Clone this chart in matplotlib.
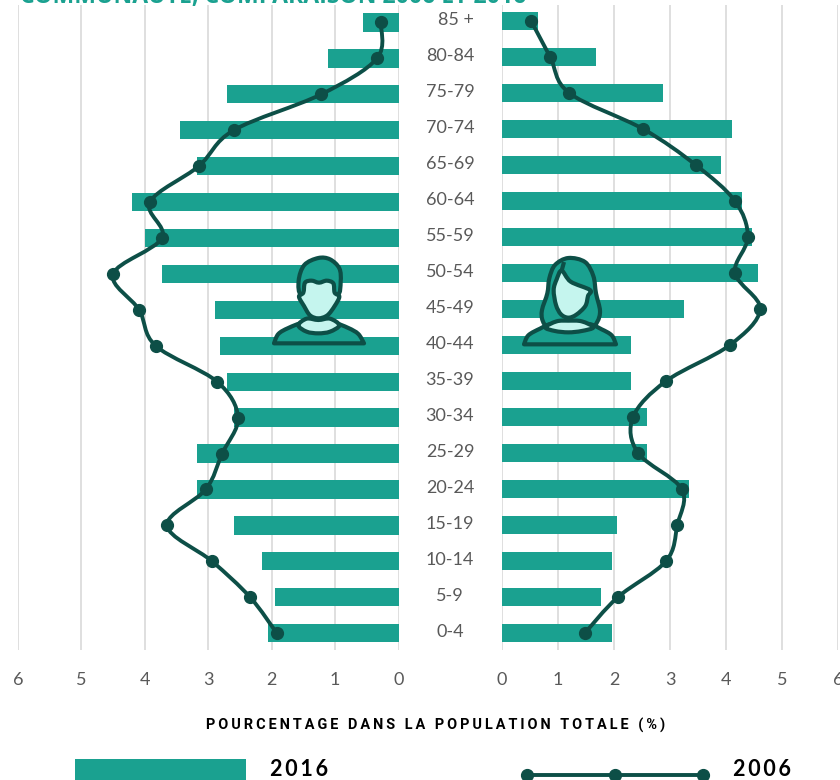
"""Pyramide des ages, comparaison 2006 et 2016."""

import matplotlib

matplotlib.use("Agg")
import matplotlib.pyplot as plt
import numpy as np
from matplotlib.patches import PathPatch, Rectangle
from matplotlib.path import Path
from matplotlib.transforms import blended_transform_factory

TEAL = "#1AA190"
DARK = "#0D4F47"
LIGHT = "#C5F5EE"
GREY = "#595959"
GRID = "#D9D9D9"

ages = ["85 +", "80-84", "75-79", "70-74", "65-69", "60-64", "55-59", "50-54", "45-49",
        "40-44", "35-39", "30-34", "25-29", "20-24", "15-19", "10-14", "5-9", "0-4"]
men_2016 = [0.56, 1.11, 2.70, 3.45, 3.17, 4.20, 4.00, 3.73, 2.89,
            2.81, 2.70, 2.60, 3.17, 3.17, 2.60, 2.15, 1.95, 2.05]
men_2006 = [0.28, 0.34, 1.22, 2.60, 3.15, 3.92, 3.73, 4.50, 4.09,
            3.83, 2.86, 2.53, 2.78, 3.04, 3.65, 2.94, 2.34, 1.92]
women_2016 = [0.64, 1.68, 2.88, 4.11, 3.91, 4.29, 4.46, 4.57, 3.25,
              2.30, 2.30, 2.59, 2.59, 3.34, 2.05, 1.96, 1.77, 1.96]
women_2006 = [0.52, 0.86, 1.20, 2.52, 3.46, 4.16, 4.39, 4.16, 4.61,
              4.07, 2.93, 2.34, 2.43, 3.21, 3.13, 2.93, 2.07, 1.48]
x_ticks = [0, 1, 2, 3, 4, 5, 6]

plt.rcParams["font.family"] = ["Lato", "DejaVu Sans"]


def smooth_path(points, mode="open"):
    """Catmull-Rom curve through the points, as bezier segments."""
    pts = np.asarray(points, dtype=float)
    if mode == "loop":
        padded = np.vstack([pts[-1], pts, pts[0], pts[1]])
    else:
        padded = np.vstack([pts[0], pts, pts[-1]])
    verts = [pts[0]]
    codes = [Path.MOVETO]
    for i in range(1, len(padded) - 2):
        verts.append(padded[i] + (padded[i + 1] - padded[i - 1]) / 6)
        verts.append(padded[i + 1] - (padded[i + 2] - padded[i]) / 6)
        verts.append(padded[i + 1])
        codes += [Path.CURVE4] * 3
    if mode != "open":
        verts.append(pts[0])
        codes.append(Path.CLOSEPOLY)
    return Path(np.array(verts), codes)


def draw_side(ax, bars, line, bar_height):
    y = np.arange(len(ages))
    ax.barh(y, bars, height=bar_height, color=TEAL, zorder=2)
    ax.add_patch(PathPatch(smooth_path(np.column_stack([line, y])), fill=False, edgecolor=DARK, lw=2.8, zorder=3))
    ax.plot(line, y, ls="none", marker="o", ms=8.5, color=DARK, zorder=4)
    ax.set_xticks(x_ticks)
    ax.grid(axis="x", color=GRID, lw=1.2, zorder=0)
    ax.set_axisbelow(True)
    ax.set_yticks([])
    ax.tick_params(axis="x", length=0, pad=16, labelsize=13, labelcolor=GREY)
    for spine in ax.spines.values():
        spine.set_visible(False)
    ax.patch.set_alpha(0)
    for label in ax.get_xticklabels():
        label.set_clip_on(False)


def icon_part(ax, points, origin, face, mode="loop"):
    px = np.asarray(points, dtype=float) / 3 + origin
    ax.add_patch(PathPatch(smooth_path(px, mode=mode), facecolor=face, edgecolor=DARK, lw=3.0, joinstyle="round", zorder=6))


def draw_man(ax):
    origin = np.array([250, 250])
    icon_part(ax, [(72, 280), (85, 252), (115, 234), (160, 218), (205, 222), (250, 218), (295, 234), (325, 252), (342, 280)], origin, TEAL, mode="corner")
    icon_part(ax, [(145, 226), (170, 206), (205, 210), (240, 206), (268, 226), (240, 245), (205, 250), (170, 245)], origin, LIGHT)
    icon_part(ax, [(154, 135), (146, 92), (163, 45), (205, 24), (240, 28), (268, 55), (272, 95), (262, 135), (205, 125)], origin, TEAL)
    icon_part(ax, [(165, 98), (185, 92), (207, 98), (230, 92), (250, 100), (254, 128), (268, 140), (254, 168), (232, 196), (205, 205), (180, 196), (162, 168), (147, 140), (160, 128)], origin, LIGHT)


def draw_woman(ax):
    origin = np.array([510, 250])
    icon_part(ax, [(118, 85), (135, 45), (175, 24), (225, 36), (250, 78), (258, 130), (270, 182), (262, 215), (240, 235), (175, 240), (118, 235), (98, 212), (96, 180), (112, 130)], origin, TEAL)
    icon_part(ax, [(42, 283), (55, 256), (90, 236), (125, 222), (175, 232), (235, 222), (275, 238), (305, 256), (318, 283)], origin, TEAL, mode="corner")
    icon_part(ax, [(106, 232), (140, 214), (175, 212), (215, 214), (250, 232), (215, 243), (175, 247), (135, 243)], origin, LIGHT)
    icon_part(ax, [(155, 62), (182, 95), (240, 120), (234, 138), (226, 168), (199, 194), (175, 203), (153, 193), (138, 165), (131, 120), (140, 88)], origin, LIGHT)
    icon_part(ax, [(162, 36), (155, 62)], origin, "none", mode="open")


def main():
    fig = plt.figure(figsize=(8.4, 7.8), dpi=100)
    fig.patch.set_facecolor("white")

    left = fig.add_axes([18 / 840, 130 / 780, 380.5 / 840, 645 / 780])
    right = fig.add_axes([502 / 840, 130 / 780, 336 / 840, 645 / 780])
    draw_side(left, men_2016, men_2006, 0.51)
    draw_side(right, women_2016, women_2006, 0.49)
    left.set_xlim(6, 0)
    right.set_xlim(0, 6)
    left.set_ylim(17.47, -0.487)
    right.set_ylim(17.47, -0.444)

    overlay = fig.add_axes([0, 0, 1, 1], zorder=5)
    overlay.set_xlim(0, 840)
    overlay.set_ylim(780, 0)
    overlay.axis("off")

    label_tf = blended_transform_factory(overlay.transData, right.transData)
    for i, age in enumerate(ages):
        overlay.text(456 if age == "85 +" else 450, i - 0.03, age, transform=label_tf, ha="center", va="center", fontsize=13, color=GREY)

    overlay.text(20, 3.5, "COMMUNAUTÉ, COMPARAISON 2006 ET 2016", ha="left", va="baseline", fontsize=16.6, fontweight="bold", color=TEAL, family="Open Sans")
    axis_title = "\u200a\u200a".join("POURCENTAGE DANS LA POPULATION TOTALE (%)")
    overlay.text(435.5, 725, axis_title, ha="center", va="center", fontsize=10.45, fontweight="bold", color="black", family=["Roboto", "DejaVu Sans"])

    draw_man(overlay)
    draw_woman(overlay)

    overlay.add_patch(Rectangle((75, 759), 171, 30, facecolor=TEAL, edgecolor="none", clip_on=True))
    overlay.plot([527, 615, 703], [775, 775, 775], color=DARK, lw=2.8, marker="o", ms=8.5)
    overlay.text(270, 770, "\u200a\u200a".join("2016"), ha="left", va="center", fontsize=15.5, fontweight="bold", color="black")
    overlay.text(733, 770, "\u200a\u200a".join("2006"), ha="left", va="center", fontsize=15.5, fontweight="bold", color="black")

    fig.savefig("out.png", dpi=100)
    plt.close(fig)


if __name__ == "__main__":
    main()
